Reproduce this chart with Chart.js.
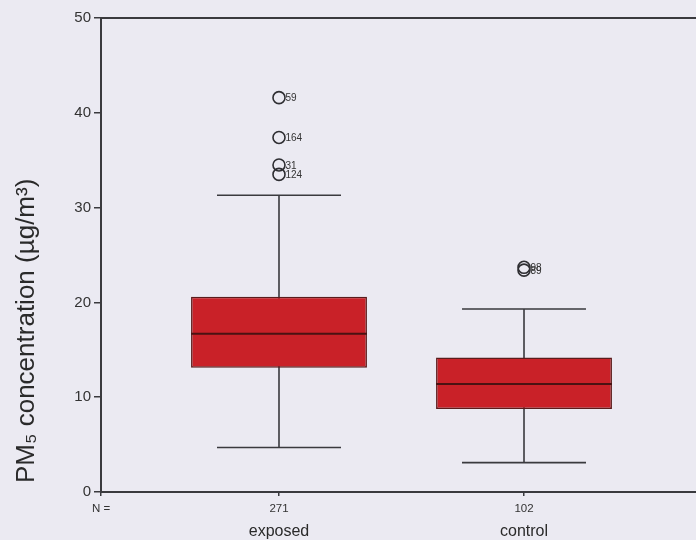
<!DOCTYPE html>
<html>
<head>
<meta charset="utf-8">
<script src="https://cdn.jsdelivr.net/npm/chart.js@4.4.1/dist/chart.umd.min.js"></script>
<style>
  html, body { margin: 0; padding: 0; background: #ebeaf2; overflow: hidden; }
  #wrap { width: 696px; height: 540px; position: relative; }
</style>
</head>
<body>
<div id="wrap"><canvas id="c" width="696" height="540"></canvas></div>
<script>
// Box-plot summary of PM5 concentration per group
const groups = ['exposed', 'control'];
const groupN = [271, 102];
const groupPos = [1, 2];
const whiskerLow = [4.7, 3.1];
const q1 = [13.1, 8.75];
const median = [16.7, 11.4];
const q3 = [20.6, 14.2];
const whiskerHigh = [31.3, 19.3];

// individual outlying measurements (case numbers as labels)
const outlierGroup = [1, 1, 1, 1, 2, 2];
const outlierValue = [41.6, 37.4, 34.5, 33.5, 23.4, 23.7];
const outlierCase = ['59', '164', '31', '124', '89', '98'];

const yTicks = [0, 10, 20, 30, 40, 50];
const yTitle = 'PM\u2085 concentration (\u00b5g/m\u00b3)';

const xMin = 0.2735, xMax = 2.702;
const capHalf = 0.253;
const boxWidth = 0.718;   // in x-axis units
const ink = '#3a3a3e';
const FONT = '"Liberation Sans", Arial, sans-serif';

const boxPlotLines = {
  id: 'boxPlotLines',
  beforeDraw(chart) {
    const ctx = chart.ctx;
    ctx.save();
    ctx.fillStyle = '#ebeaf2';
    ctx.fillRect(0, 0, chart.width, chart.height);
    ctx.restore();
  },
  beforeDatasetsDraw(chart) {
    const { ctx, scales: { x, y } } = chart;
    ctx.save();
    ctx.strokeStyle = ink;
    ctx.lineWidth = 1.6;
    groupPos.forEach((p, i) => {
      const cx = x.getPixelForValue(p);
      const l = x.getPixelForValue(p - capHalf);
      const r = x.getPixelForValue(p + capHalf);
      const yl = y.getPixelForValue(whiskerLow[i]);
      const yh = y.getPixelForValue(whiskerHigh[i]);
      ctx.beginPath();
      ctx.moveTo(cx, yl); ctx.lineTo(cx, yh);
      ctx.moveTo(l, yl); ctx.lineTo(r, yl);
      ctx.moveTo(l, yh); ctx.lineTo(r, yh);
      ctx.stroke();
    });
    // top frame line
    ctx.lineWidth = 2;
    ctx.beginPath();
    ctx.moveTo(chart.chartArea.left, chart.chartArea.top);
    ctx.lineTo(chart.width, chart.chartArea.top);
    ctx.stroke();
    ctx.restore();
  },
  afterDatasetsDraw(chart) {
    const { ctx, scales: { x, y } } = chart;
    const bars = chart.getDatasetMeta(0).data;
    ctx.save();
    ctx.strokeStyle = '#4a1212';
    ctx.lineWidth = 2;
    bars.forEach((bar, i) => {
      const ym = y.getPixelForValue(median[i]);
      ctx.beginPath();
      ctx.moveTo(bar.x - bar.width / 2, ym);
      ctx.lineTo(bar.x + bar.width / 2, ym);
      ctx.stroke();
    });
    // case labels beside outliers
    ctx.fillStyle = '#333';
    ctx.font = '10px ' + FONT;
    ctx.textBaseline = 'middle';
    chart.getDatasetMeta(1).data.forEach((pt, i) => {
      ctx.fillText(outlierCase[i], pt.x + 6.5, pt.y + 1);
    });
    // rotated value-axis title, anchored near the bottom of the axis
    ctx.translate(34, y.getPixelForValue(0.95));
    ctx.rotate(-Math.PI / 2);
    ctx.fillStyle = '#2a2a2a';
    ctx.font = '26px ' + FONT;
    ctx.textBaseline = 'alphabetic';
    ctx.textAlign = 'left';
    ctx.fillText(yTitle, 0, 0);
    ctx.restore();
  }
};

function noSidePadding(s) {
  s.paddingLeft = 0;
  s.paddingRight = 0;
}

new Chart(document.getElementById('c'), {
  type: 'bar',
  data: {
    datasets: [
      {
        type: 'bar',
        data: groupPos.map((p, i) => ({ x: p, y: [q1[i], q3[i]] })),
        backgroundColor: '#c92128',
        borderColor: '#5a1c1c',
        borderWidth: 1.5,
        borderSkipped: false,
        categoryPercentage: 1,
        // the narrowest tick gap (axis start to first group) sets the bar ruler
        barPercentage: boxWidth / (groupPos[0] - xMin),
        xAxisID: 'x',
        yAxisID: 'y'
      },
      {
        type: 'scatter',
        data: outlierValue.map((v, i) => ({ x: outlierGroup[i], y: v })),
        pointStyle: 'circle',
        pointRadius: 6,
        pointBorderWidth: 1.6,
        pointBackgroundColor: 'rgba(0,0,0,0)',
        pointBorderColor: '#2e2e32',
        xAxisID: 'x',
        yAxisID: 'y'
      }
    ]
  },
  options: {
    responsive: false,
    animation: false,
    events: [],
    layout: { autoPadding: false, padding: { top: 18, right: 0, left: 0, bottom: 0 } },
    plugins: { legend: { display: false }, tooltip: { enabled: false } },
    scales: {
      x: {
        type: 'linear',
        position: 'bottom',
        offset: false,
        min: xMin,
        max: xMax,
        afterBuildTicks(s) {
          s.ticks = [{ value: xMin }].concat(groupPos.map(v => ({ value: v })));
        },
        afterFit(s) { s.height = 28; noSidePadding(s); },
        grid: { offset: false, drawOnChartArea: false, tickLength: 4, color: ink, lineWidth: 1.5 },
        border: { display: true, color: ink, width: 2 },
        ticks: {
          autoSkip: false,
          maxRotation: 0,
          padding: 6,
          color: '#333',
          font: { family: FONT, size: 11.5 },
          callback(v) {
            if (Math.abs(v - xMin) < 1e-6) return 'N =';
            const i = groupPos.indexOf(v);
            return i >= 0 ? String(groupN[i]) : '';
          }
        }
      },
      xName: {
        type: 'linear',
        position: 'bottom',
        offset: false,
        min: xMin,
        max: xMax,
        afterBuildTicks(s) { s.ticks = groupPos.map(v => ({ value: v })); },
        afterFit(s) { s.height = 20; noSidePadding(s); },
        grid: { display: false, drawTicks: false, offset: false },
        border: { display: false },
        ticks: {
          autoSkip: false,
          maxRotation: 0,
          padding: 2,
          color: '#2a2a2a',
          font: { family: FONT, size: 16 },
          callback(v) {
            const i = groupPos.indexOf(v);
            return i >= 0 ? groups[i] : '';
          }
        }
      },
      y: {
        min: 0,
        max: 50,
        afterBuildTicks(s) { s.ticks = yTicks.map(v => ({ value: v })); },
        afterFit(s) { s.width = 101; },
        grid: { drawOnChartArea: false, tickLength: 7, color: ink, lineWidth: 1.5 },
        border: { display: true, color: ink, width: 2 },
        ticks: {
          padding: 3,
          color: '#333',
          font: { family: FONT, size: 15 }
        },
        title: { display: false }
      }
    }
  },
  plugins: [boxPlotLines]
});
</script>
</body>
</html>
